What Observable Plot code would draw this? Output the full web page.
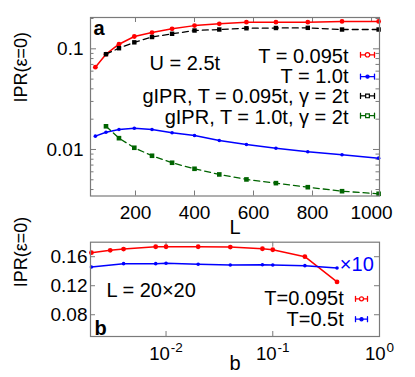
<!DOCTYPE html>
<html><head><meta charset="utf-8">
<script src="https://cdn.jsdelivr.net/npm/d3@7"></script>
<script src="https://cdn.jsdelivr.net/npm/@observablehq/plot@0.6"></script>
<style>
body{margin:0;background:#fff;}
#wrap{position:relative;width:415px;height:377px;overflow:hidden;}
#wrap svg{position:absolute;left:0;}
</style></head><body><div id="wrap"></div>
<script>
// ---------- Panel a data ----------
const sizeL = [64, 100, 144, 196, 256, 324, 400, 484, 576, 676, 784, 900, 1024];
const iprT0095 = [0.0657, 0.0884, 0.1111, 0.1325, 0.145, 0.158, 0.170, 0.177, 0.184, 0.184, 0.184, 0.187, 0.187];
const iprT10 = [0.01356, 0.01485, 0.0158, 0.01627, 0.0158, 0.01465, 0.01377, 0.01228, 0.01121, 0.0103, 0.00949, 0.00886, 0.0082];
const sizeLg = [100, 144, 196, 256, 324, 400, 484, 576, 676, 784, 900, 1024];
const giprT0095 = [0.0884, 0.1014, 0.1160, 0.1310, 0.141, 0.152, 0.1555, 0.160, 0.161, 0.1616, 0.1555, 0.1555];
const giprT10 = [0.0170, 0.01295, 0.0104, 0.00866, 0.00738, 0.00643, 0.00565, 0.00504, 0.00463, 0.00422, 0.00385, 0.00363];
const xTicksA = [200, 400, 600, 800, 1000];
const yMajorA = [0.01, 0.1];
const yMinorA = [0.004, 0.005, 0.006, 0.007, 0.008, 0.009, 0.02, 0.03, 0.04, 0.05, 0.06, 0.07, 0.08, 0.09, 0.2];
const legendA = ["T = 0.095t", "T = 1.0t", "gIPR, T = 0.095t, \u03b3 = 2t", "gIPR, T = 1.0t, \u03b3 = 2t"];

// ---------- Panel b data ----------
const bRed = [0.002, 0.003, 0.004, 0.008, 0.01, 0.02, 0.04, 0.08, 0.1, 0.2, 0.4];
const iprBT0095 = [0.1655, 0.1688, 0.1705, 0.1737, 0.1737, 0.1737, 0.1733, 0.171, 0.1696, 0.160, 0.1253];
const bBlue = [0.002, 0.004, 0.008, 0.01, 0.02, 0.04, 0.08, 0.1, 0.2, 0.4];
const iprBT05 = [0.1459, 0.1504, 0.1504, 0.151, 0.1496, 0.1486, 0.149, 0.1486, 0.1477, 0.1445];
const xTicksB = [0.01, 0.1, 1];
const yTicksB = [0.08, 0.12, 0.16];
const legendB = ["T=0.095t", "T=0.5t"];

const FONT = "'Liberation Sans', Arial, Helvetica, sans-serif";
const FRAME = "#7a7a7a";
const RED = "#ff0000", BLUE = "#0000ff", BLACK = "#000000", GREEN = "#006400";

function errShape(cap) {
  return {draw(ctx, l) {
    ctx.moveTo(0, 0); ctx.lineTo(0, -l);
    ctx.moveTo(-cap, 0); ctx.lineTo(cap, 0);
    ctx.moveTo(-cap, -l); ctx.lineTo(cap, -l);
  }};
}
function legendSample(color, dy, dx, len, symbol, r, fill) {
  return [
    Plot.vector([0], {frameAnchor: "top-right", dx, dy, rotate: 90, length: len, anchor: "middle",
      shape: errShape(2.5), stroke: color, strokeWidth: 1.3}),
    Plot.dot([0], {frameAnchor: "top-right", dx, dy, symbol, r, stroke: color, fill, strokeWidth: 1.2})
  ];
}
const label = (s, opts) => Plot.text([s], {text: d => d, lineAnchor: "middle", ...opts});
const zipA = (xs, ys) => xs.map((x, i) => ({x, y: ys[i]}));

// ---------- Panel a ----------
const AW = 415, AH = 232, AML = 90, AMR = 36, AMT = 17, AMB = 36.5;
const aIW = AW - AML - AMR, aIH = AH - AMT - AMB;
const red = zipA(sizeL, iprT0095), blue = zipA(sizeL, iprT10);
const black = zipA(sizeLg, giprT0095), green = zipA(sizeLg, giprT10);
const rowDy = i => 38.8 + 20.3 * i;

const plotA = Plot.plot({
  width: AW, height: AH, marginLeft: AML, marginRight: AMR, marginTop: AMT, marginBottom: AMB,
  style: `font-family: ${FONT}; font-size: 19px; background: transparent; overflow: visible;`,
  x: {type: "linear", domain: [47.5, 1027], ticks: xTicksA, tickSize: 0, tickPadding: 9.5, label: null, tickFormat: d => String(d)},
  y: {type: "log", domain: [0.00345, 0.2047], ticks: yMajorA, tickSize: 0, tickPadding: 7, label: null, tickFormat: d => String(d)},
  marks: [
    Plot.tickY(yMajorA, {y: d => d, stroke: FRAME, insetRight: aIW - 6}),
    Plot.tickY(yMajorA, {y: d => d, stroke: FRAME, insetLeft: aIW - 6}),
    Plot.tickY(yMinorA, {y: d => d, stroke: FRAME, insetRight: aIW - 3.5}),
    Plot.tickY(yMinorA, {y: d => d, stroke: FRAME, insetLeft: aIW - 3.5}),
    Plot.tickX(xTicksA, {x: d => d, stroke: FRAME, insetTop: aIH - 5}),
    Plot.tickX(xTicksA, {x: d => d, stroke: FRAME, insetBottom: aIH - 5}),
    Plot.line(red, {x: "x", y: "y", stroke: RED, strokeWidth: 1.5}),
    Plot.dot(red, {x: "x", y: "y", fill: RED, r: 2.4}),
    Plot.line(blue, {x: "x", y: "y", stroke: BLUE, strokeWidth: 1.5}),
    Plot.dot(blue, {x: "x", y: "y", fill: BLUE, r: 1.8}),
    Plot.line(black, {x: "x", y: "y", stroke: BLACK, strokeWidth: 1.3, strokeDasharray: "6,4"}),
    Plot.dot(black, {x: "x", y: "y", fill: BLACK, symbol: "square", r: 2.5}),
    Plot.line(green, {x: "x", y: "y", stroke: GREEN, strokeWidth: 1.3, strokeDasharray: "6,4"}),
    Plot.dot(green, {x: "x", y: "y", fill: GREEN, symbol: "square", r: 2.6}),
    Plot.frame({stroke: FRAME, strokeWidth: 1.2}),
    label("a", {frameAnchor: "top-left", textAnchor: "start", dx: 3, dy: 11.5, fontSize: 20, fontWeight: "bold"}),
    label("U = 2.5t", {frameAnchor: "top-left", textAnchor: "start", dx: 59, dy: 46.3, fontSize: 20}),
    ...legendA.map((s, i) => label(s, {frameAnchor: "top-right", textAnchor: "end", dx: -31, dy: rowDy(i), fontSize: 20})),
    ...legendSample(RED, rowDy(0) - 1.5, -12, 14, "circle", 2.2, "white"),
    ...legendSample(BLUE, rowDy(1), -12, 14, "circle", 1.6, BLUE),
    ...legendSample(BLACK, rowDy(2) - 1, -12, 14, "square", 2.1, "white"),
    ...legendSample(GREEN, rowDy(3) - 1.5, -12, 14, "square", 2.1, "white"),
    label("L", {frameAnchor: "bottom", dy: 31.5, fontSize: 20}),
    label("IPR(\u03b5=0)", {frameAnchor: "left", rotate: -90, dx: -69, dy: -4.3, fontSize: 18})
  ]
});

// ---------- Panel b ----------
const BW = 415, BH = 145, BML = 90, BMR = 36, BMT = 9.7, BMB = 41;
const bIW = BW - BML - BMR, bIH = BH - BMT - BMB;
const redB = zipA(bRed, iprBT0095), blueB = zipA(bBlue, iprBT05);
const supW = s => 13.5 * (0.556 * s.replace("-", "").length + (s.includes("-") ? 0.333 : 0));
const xLabelMarks = xTicksB.flatMap(t => {
  const e = String(Math.round(Math.log10(t)));
  const total = 20.7 + 1 + supW(e);
  const end10 = -total / 2 + 20.7;
  return [
    Plot.text([t], {x: d => d, text: () => "10", frameAnchor: "bottom", lineAnchor: "middle", textAnchor: "end", dx: end10, dy: 17.5, fontSize: 18.6}),
    Plot.text([t], {x: d => d, text: () => e, frameAnchor: "bottom", lineAnchor: "middle", textAnchor: "start", dx: end10 + 0.8, dy: 10.8, fontSize: 13.5})
  ];
});

const plotB = Plot.plot({
  width: BW, height: BH, marginLeft: BML, marginRight: BMR, marginTop: BMT, marginBottom: BMB,
  style: `font-family: ${FONT}; font-size: 19px; background: transparent; overflow: visible;`,
  x: {type: "log", domain: [0.00196, 1], axis: null},
  y: {type: "linear", domain: [0.05, 0.18], ticks: yTicksB, tickSize: 0, tickPadding: 3, label: null, tickFormat: d3.format(".2f")},
  marks: [
    Plot.tickY(yTicksB, {y: d => d, stroke: FRAME, insetRight: bIW - 5}),
    Plot.tickY(yTicksB, {y: d => d, stroke: FRAME, insetLeft: bIW - 5}),
    Plot.tickX(xTicksB.slice(0, 2), {x: d => d, stroke: FRAME, insetTop: bIH - 5}),
    Plot.tickX(xTicksB.slice(0, 2), {x: d => d, stroke: FRAME, insetBottom: bIH - 5}),
    Plot.line(redB, {x: "x", y: "y", stroke: RED, strokeWidth: 1.5}),
    Plot.dot(redB, {x: "x", y: "y", fill: RED, r: 2.4}),
    Plot.line(blueB, {x: "x", y: "y", stroke: BLUE, strokeWidth: 1.5}),
    Plot.dot(blueB, {x: "x", y: "y", fill: BLUE, r: 1.8}),
    Plot.frame({stroke: FRAME, strokeWidth: 1.2}),
    ...xLabelMarks,
    label("b", {frameAnchor: "bottom-left", textAnchor: "start", dx: 4, dy: -7.5, fontSize: 20, fontWeight: "bold"}),
    label("L = 20\u00d720", {frameAnchor: "top-left", textAnchor: "start", dx: 16, dy: 48.3, fontSize: 20}),
    label("\u00d710", {frameAnchor: "top-right", textAnchor: "end", dx: -5.7, dy: 22.1, fontSize: 20, fill: BLUE}),
    label(legendB[0], {frameAnchor: "top-right", textAnchor: "end", dx: -35.7, dy: 56.6, fontSize: 20}),
    label(legendB[1], {frameAnchor: "top-right", textAnchor: "end", dx: -35.7, dy: 77, fontSize: 20}),
    ...legendSample(RED, 56.6, -18, 12, "circle", 2, "white"),
    ...legendSample(BLUE, 77, -18, 12, "circle", 1.6, BLUE),
    label("b", {frameAnchor: "bottom", dy: 27, fontSize: 20}),
    label("IPR(\u03b5=0)", {frameAnchor: "left", rotate: -90, dx: -69, dy: -2, fontSize: 18})
  ]
});

const wrap = document.getElementById("wrap");
plotA.style.top = "0px";
plotB.style.top = "232px";
wrap.appendChild(plotA);
wrap.appendChild(plotB);
</script></body></html>
